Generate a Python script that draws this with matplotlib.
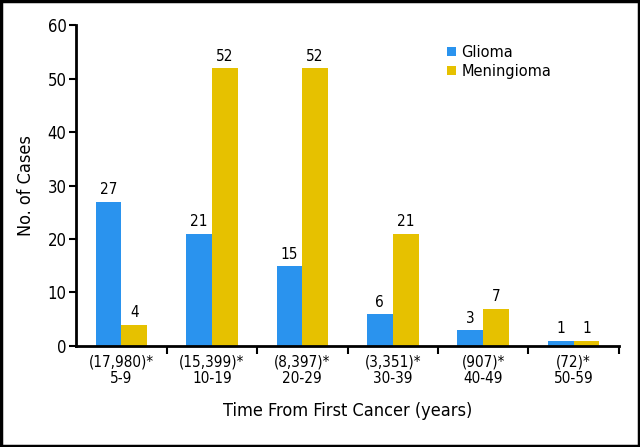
import matplotlib

matplotlib.use("Agg")
import matplotlib.pyplot as plt
from matplotlib.patches import Rectangle
import numpy as np

plt.rcParams["font.family"] = ["DejaVu Sans"]
plt.rcParams["font.stretch"] = "condensed"

BLUE, YELLOW = "#2A93EE", "#E6C100"

groups = ["5-9", "10-19", "20-29", "30-39", "40-49", "50-59"]
person_years = ["(17,980)*", "(15,399)*", "(8,397)*", "(3,351)*", "(907)*", "(72)*"]
glioma = [27, 21, 15, 6, 3, 1]
meningioma = [4, 52, 52, 21, 7, 1]

fig = plt.figure(figsize=(6.4, 4.47), dpi=100)
ax = fig.add_axes([0.119, 0.226, 0.848, 0.718])

x = np.arange(len(groups))
w = 0.285
bg = ax.bar(x - w / 2, glioma, w, color=BLUE, label="Glioma")
bm = ax.bar(x + w / 2, meningioma, w, color=YELLOW, label="Meningioma")
for bars, vals in ((bg, glioma), (bm, meningioma)):
    for b, v in zip(bars, vals):
        ax.annotate(f"{v}", (b.get_x() + b.get_width() / 2, v),
                    textcoords="offset points", xytext=(0, 3),
                    ha="center", va="bottom", fontsize=11)

ax.set_xlim(-0.5, len(groups) - 0.5)
ax.set_ylim(0, 60)
ax.set_yticks(range(0, 61, 10))
ax.tick_params(axis="y", direction="out", length=5, width=1.5, labelsize=12,
               pad=2)
ax.set_xticks(x)
ax.set_xticklabels([f"{p}\n{g}" for p, g in zip(person_years, groups)],
                   fontsize=11, linespacing=1.1)
ax.tick_params(axis="x", length=0, pad=6)
ax.set_xticks(np.arange(0.5, len(groups), 1.0), minor=True)
ax.tick_params(axis="x", which="minor", direction="out", length=6, width=1.5)

for s in ("top", "right"):
    ax.spines[s].set_visible(False)
for s in ("left", "bottom"):
    ax.spines[s].set_linewidth(2)

ax.set_ylabel("No. of Cases", fontsize=13, labelpad=9)
ax.set_xlabel("Time From First Cancer (years)", fontsize=13, labelpad=12)

leg = ax.legend(loc="upper right", bbox_to_anchor=(0.9, 0.98), frameon=False,
                handlelength=0.6, handleheight=0.6, handletextpad=0.4,
                labelspacing=0.3,
                prop={"family": "DejaVu Sans", "stretch": "normal", "size": 10.5})

fig.patches.append(Rectangle((0.002, 0.003), 0.996, 0.994, transform=fig.transFigure,
                             fill=False, edgecolor="black", linewidth=2.5))

fig.savefig("out.png", dpi=100)
